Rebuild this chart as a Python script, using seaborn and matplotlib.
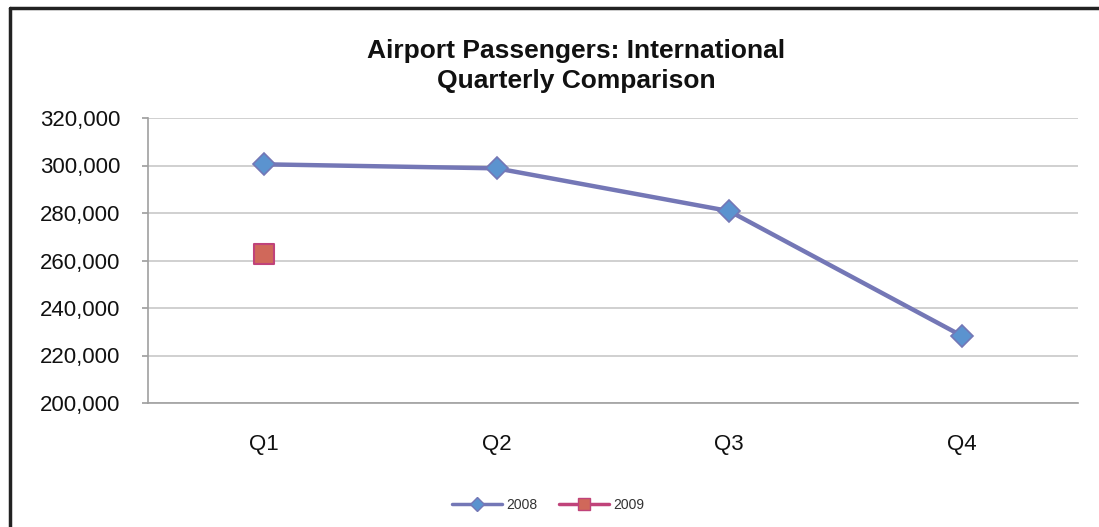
import matplotlib
matplotlib.use("Agg")
import matplotlib.pyplot as plt
import seaborn as sns
import pandas as pd
import numpy as np
from matplotlib.lines import Line2D
from matplotlib.ticker import FuncFormatter

quarters = ["Q1", "Q2", "Q3", "Q4"]
values_2008 = [300500, 298800, 280800, 228300]
quarters_2009 = ["Q1"]
values_2009 = [262600]
yticks = [200000, 220000, 240000, 260000, 280000, 300000, 320000]

sns.set_theme(style="white")
plt.rcParams['font.family'] = ['Liberation Sans', 'DejaVu Sans']

df08 = pd.DataFrame({"Quarter": quarters, "Passengers": values_2008})
df09 = pd.DataFrame({"Quarter": quarters_2009, "Passengers": values_2009})

fig = plt.figure(figsize=(10.99, 5.27), dpi=100)
ax = fig.add_axes([148/1099, 1 - 403/527, (1078-148)/1099, (403-118)/527])

c08_line = "#7477B6"
c08_fill = "#5B93CF"
c09_edge = "#C0437A"
c09_fill = "#D0685A"

sns.lineplot(data=df08, x="Quarter", y="Passengers", ax=ax, color=c08_line,
             linewidth=3.2, marker="D", markersize=11, markerfacecolor=c08_fill,
             markeredgecolor=c08_line, markeredgewidth=1.2, sort=False)
sns.scatterplot(data=df09, x="Quarter", y="Passengers", ax=ax, marker="s", s=215,
                color=c09_fill, edgecolor=c09_edge, linewidth=1.5, zorder=5)

ax.set_xlim(-0.5, 3.5)
ax.set_ylim(200000, 320000)
ax.set_yticks(yticks)
ax.yaxis.set_major_formatter(FuncFormatter(lambda v, p: f"{int(v):,}"))
ax.grid(axis="y", color="#C8C8C8", linewidth=1.2)
ax.set_axisbelow(True)
for s in ["top", "right"]:
    ax.spines[s].set_visible(False)
for s in ["left", "bottom"]:
    ax.spines[s].set_color("#A0A0A0")
    ax.spines[s].set_linewidth(1.2)
ax.tick_params(axis="y", length=4, color="#A0A0A0", labelsize=16, pad=16, left=True)
ax.tick_params(axis="x", length=0, labelsize=16, pad=22)
ax.set_xlabel("")
ax.set_ylabel("")
for lab in ax.get_yticklabels() + ax.get_xticklabels():
    lab.set_color("#111111")

fig.text(576/1099, 1 - 66/527, "Airport Passengers: International\nQuarterly Comparison",
         ha="center", va="center", fontsize=19, fontweight="bold", linespacing=1.33,
         color="#111111")

handles = [
    Line2D([0], [0], color=c08_line, lw=2.5, marker="D", markersize=7,
           markerfacecolor=c08_fill, markeredgecolor=c08_line),
    Line2D([0], [0], color=c09_edge, lw=2.5, marker="s", markersize=8,
           markerfacecolor=c09_fill, markeredgecolor=c09_edge),
]
fig.legend(handles, ["2008", "2009"], loc="center", bbox_to_anchor=(548/1099, 1 - 505/527),
           ncol=2, frameon=False, fontsize=10, handlelength=3.6, columnspacing=1.6,
           handletextpad=0.3, labelcolor="#333333")

# outer frame (top and left edges visible)
fig.add_artist(Line2D([10/1099, 1.0], [1 - 8/527, 1 - 8/527], color="#222222", lw=2.5,
                      transform=fig.transFigure))
fig.add_artist(Line2D([10/1099, 10/1099], [0, 1 - 8/527], color="#222222", lw=2.5,
                      transform=fig.transFigure))

fig.savefig("out.png", dpi=100)
